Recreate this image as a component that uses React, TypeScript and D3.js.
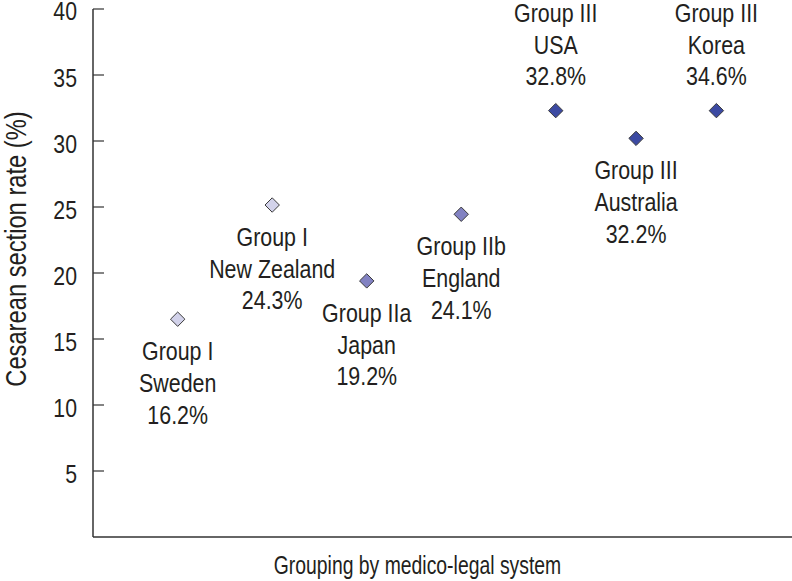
import React from "react";
import * as d3 from "d3";

const countries = ["Sweden", "New Zealand", "Japan", "England", "USA", "Australia", "Korea"];
const groups = ["Group I", "Group I", "Group IIa", "Group IIb", "Group III", "Group III", "Group III"];
const rateLabels = ["16.2%", "24.3%", "19.2%", "24.1%", "32.8%", "32.2%", "34.6%"];
const plotted = [16.5, 25.15, 19.4, 24.45, 32.3, 30.2, 32.3];
const xOrder = [1, 2, 3, 4, 5, 5.85, 6.7];
const labelSide = ["below", "below", "below", "below", "above", "below", "above"];
const tiers = [0, 0, 1, 1, 2, 2, 2];
const yTicks = [5, 10, 15, 20, 25, 30, 35, 40];

const tierFill = ["#d2d2ea", "#8282c2", "#3c4aa2"];
const ink = "#231f20";
const font = "'Liberation Sans', Arial, sans-serif";

export default function App() {
  const W = 792;
  const H = 581;
  const x = d3.scaleLinear().domain([0, 7.5]).range([83.2, 792]);
  const y = d3.scaleLinear().domain([0, 40]).range([537, 9]);
  const axisX = 93;
  const r = 7.2;
  const diamond = `M0,${-r}L${r},0L0,${r}L${-r},0Z`;

  const below = [41, 72.7, 104.4];
  const above = [-88.4, -57, -25.6];

  return (
    <svg width={W} height={H} style={{ position: "absolute", left: 0, top: 0 }}>
      <rect width={W} height={H} fill="#fff" />
      <line x1={axisX} x2={axisX} y1={y(40)} y2={y(0)} stroke="#333" strokeWidth={1.5} />
      <line x1={axisX} x2={W} y1={y(0)} y2={y(0)} stroke="#333" strokeWidth={1.5} />
      {yTicks.map((t) => (
        <g key={t}>
          <line x1={axisX} x2={axisX + 11} y1={y(t)} y2={y(t)} stroke="#333" strokeWidth={1.2} />
          <text
            transform={`translate(77,${y(t) + (t === 40 ? 11 : 12)}) scale(0.85,1)`}
            textAnchor="end"
            fontFamily={font}
            fontSize={25}
            fill={ink}
          >
            {t}
          </text>
        </g>
      ))}
      <text
        transform={`translate(26,249) rotate(-90) scale(0.818,1)`}
        textAnchor="middle"
        fontFamily={font}
        fontSize={29}
        fill={ink}
      >
        Cesarean section rate (%)
      </text>
      <text
        transform={`translate(417.5,574) scale(0.775,1)`}
        textAnchor="middle"
        fontFamily={font}
        fontSize={25}
        fill={ink}
      >
        Grouping by medico-legal system
      </text>
      {countries.map((c, i) => {
        const px = x(xOrder[i]);
        const py = y(plotted[i]);
        const offs = labelSide[i] === "above" ? above : below;
        const lines = [groups[i], c, rateLabels[i]];
        return (
          <g key={c}>
            <path d={diamond} transform={`translate(${px},${py})`} fill={tierFill[tiers[i]]} stroke="#3a3a3a" strokeWidth={1} />
            {lines.map((s, k) => (
              <text
                key={k}
                transform={`translate(${px},${py + offs[k]}) scale(0.84,1)`}
                textAnchor="middle"
                fontFamily={font}
                fontSize={25.5}
                fill={ink}
              >
                {s}
              </text>
            ))}
          </g>
        );
      })}
    </svg>
  );
}
